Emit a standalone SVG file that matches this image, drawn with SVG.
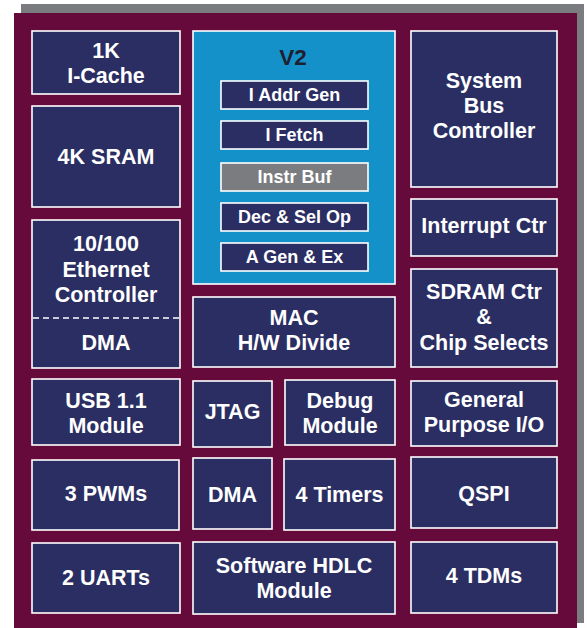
<svg xmlns="http://www.w3.org/2000/svg" width="587" height="628" viewBox="0 0 587 628">
<style>
.b{fill:#2a2e62;stroke:#ffffff;stroke-width:1.6}
.t{font-family:"Liberation Sans",Arial,sans-serif;font-weight:bold;font-size:21.5px;fill:#ffffff;text-anchor:middle}
.s{font-family:"Liberation Sans",Arial,sans-serif;font-weight:bold;font-size:18px;fill:#ffffff;text-anchor:middle}
</style>
<rect x="0" y="0" width="587" height="628" fill="#ffffff"/>
<rect x="21" y="4" width="563" height="619" fill="#7b7c80"/>
<rect x="14" y="13" width="563" height="615" fill="#660a3c"/>

<g id="icache"><rect class="b" x="32" y="31" width="148" height="63"/><text class="t" x="106" y="58">1K</text><text class="t" x="106" y="83">I-Cache</text></g>
<g id="sram"><rect class="b" x="32" y="106" width="148" height="101"/><text class="t" x="106" y="164">4K SRAM</text></g>
<g id="ethernet"><rect class="b" x="32" y="220" width="148" height="148"/><text class="t" x="106" y="251">10/100</text><text class="t" x="106" y="277">Ethernet</text><text class="t" x="106" y="302">Controller</text><line x1="33" y1="318" x2="179" y2="318" stroke="#ffffff" stroke-width="1.3" stroke-dasharray="6,4"/><text class="t" x="106" y="350">DMA</text></g>
<g id="usb"><rect class="b" x="32" y="379" width="148" height="66"/><text class="t" x="106" y="408">USB 1.1</text><text class="t" x="106" y="433">Module</text></g>
<g id="pwm"><rect class="b" x="32" y="460" width="147" height="70"/><text class="t" x="106" y="501">3 PWMs</text></g>
<g id="uart"><rect class="b" x="32" y="543" width="148" height="70"/><text class="t" x="106" y="585">2 UARTs</text></g>

<g id="v2"><rect x="193" y="31" width="202" height="253" fill="#1591c9" stroke="#ffffff" stroke-width="1.6"/><text x="293" y="65" font-family="Liberation Sans,Arial,sans-serif" font-weight="bold" font-size="22.5" fill="#1e1f30" text-anchor="middle">V2</text></g>
<g id="iaddr"><rect class="b" x="221" y="81" width="147" height="28"/><text class="s" x="294.5" y="101">I Addr Gen</text></g>
<g id="ifetch"><rect class="b" x="221" y="121" width="147" height="28"/><text class="s" x="294.5" y="141">I Fetch</text></g>
<g id="instrbuf"><rect x="221" y="163" width="147" height="28" fill="#7b7c80" stroke="#ffffff" stroke-width="1.6"/><text class="s" x="294.5" y="183">Instr Buf</text></g>
<g id="dec"><rect class="b" x="221" y="203" width="147" height="28"/><text class="s" x="294.5" y="223">Dec &amp; Sel Op</text></g>
<g id="agen"><rect class="b" x="221" y="243" width="147" height="28"/><text class="s" x="294.5" y="263">A Gen &amp; Ex</text></g>

<g id="mac"><rect class="b" x="193" y="297" width="202" height="70"/><text class="t" x="294" y="325">MAC</text><text class="t" x="294" y="350">H/W Divide</text></g>
<g id="jtag"><rect class="b" x="193" y="381" width="79" height="66"/><text class="t" x="232.5" y="419">JTAG</text></g>
<g id="debug"><rect class="b" x="285" y="380" width="110" height="65"/><text class="t" x="340" y="408">Debug</text><text class="t" x="340" y="433">Module</text></g>
<g id="dma"><rect class="b" x="193" y="458" width="79" height="71"/><text class="t" x="232.5" y="502">DMA</text></g>
<g id="timers"><rect class="b" x="284" y="459" width="111" height="71"/><text class="t" x="339.5" y="502">4 Timers</text></g>
<g id="hdlc"><rect class="b" x="193" y="542" width="202" height="72"/><text class="t" x="294" y="573">Software HDLC</text><text class="t" x="294" y="598">Module</text></g>

<g id="sysbus"><rect class="b" x="411" y="31" width="146" height="156"/><text class="t" x="484" y="88">System</text><text class="t" x="484" y="113">Bus</text><text class="t" x="484" y="138">Controller</text></g>
<g id="intr"><rect class="b" x="411" y="199" width="146" height="57"/><text class="t" x="484" y="233">Interrupt Ctr</text></g>
<g id="sdram"><rect class="b" x="411" y="269" width="146" height="98"/><text class="t" x="484" y="299">SDRAM Ctr</text><text class="t" x="484" y="324">&amp;</text><text class="t" x="484" y="350">Chip Selects</text></g>
<g id="gpio"><rect class="b" x="411" y="381" width="146" height="65"/><text class="t" x="484" y="407">General</text><text class="t" x="484" y="432">Purpose I/O</text></g>
<g id="qspi"><rect class="b" x="411" y="457" width="146" height="71"/><text class="t" x="484" y="501">QSPI</text></g>
<g id="tdm"><rect class="b" x="411" y="542" width="146" height="71"/><text class="t" x="484" y="583">4 TDMs</text></g>
<g id="connectors"></g>
</svg>
